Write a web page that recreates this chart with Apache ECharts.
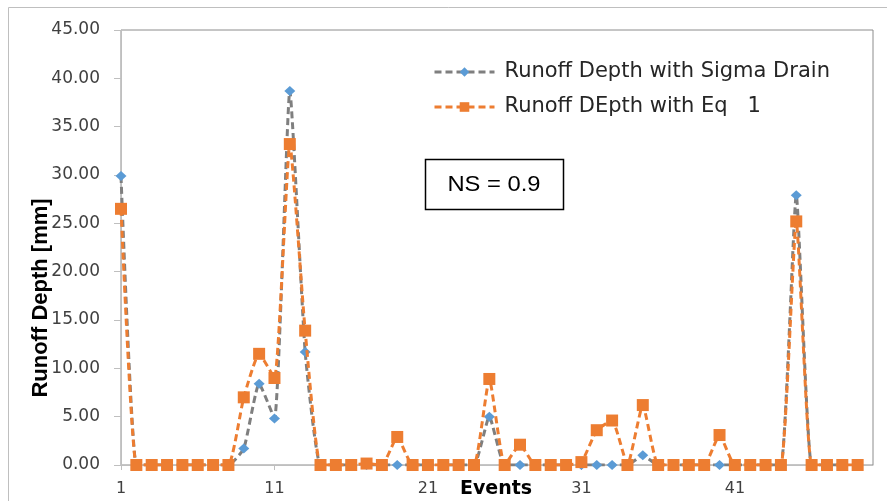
<!DOCTYPE html>
<html><head><meta charset="utf-8">
<script src="https://cdn.jsdelivr.net/npm/echarts@6/dist/echarts.min.js"></script>
<style>html,body{margin:0;padding:0;background:#fff}#c{width:887px;height:501px}</style>
</head><body><div id="c"></div>
<script>
// Event numbers on the category axis (event 50 is an empty slot at the right edge)
const categories = ['1','2','3','4','5','6','7','8','9','10','11','12','13','14','15','16','17','18','19','20',
  '21','22','23','24','25','26','27','28','29','30','31','32','33','34','35','36','37','38','39','40',
  '41','42','43','44','45','46','47','48','49','50'];
const xTickLabels = ['1','11','21','31','41'];
const yTickValues = [0,5,10,15,20,25,30,35,40,45];

// Runoff Depth with Sigma Drain (mm), events 1..49
const sigmaDrain = [29.9,0,0,0,0,0,0,0,1.7,8.4,
  4.8,38.7,11.7,0,0,0,0,0,0,0,
  0,0,0,0,5.0,0,0,0,0,0,
  0,0,0,0,1.0,0,0,0,0,0,
  0,0,0,0,27.9,0,0,0,0];
// Runoff DEpth with Eq 1 (mm), events 1..49
const eq1 = [26.5,0,0,0,0,0,0,0,7.0,11.5,
  9.0,33.2,13.9,0,0,0,0.15,0,2.9,0,
  0,0,0,0,8.9,0,2.1,0,0,0,
  0.3,3.6,4.6,0,6.2,0,0,0,0,3.1,
  0,0,0,0,25.2,0,0,0,0];

const seriesNames = ['Runoff Depth with Sigma Drain', 'Runoff DEpth with Eq   1'];

const chart = echarts.init(document.getElementById('c'), null, {renderer:'canvas'});
chart.setOption({
  animation: false,
  backgroundColor: '#ffffff',
  grid: {left:121, right:14, top:30, bottom:36, show:true, borderColor:'#8c8c8c', borderWidth:1, backgroundColor:'transparent'},
  legend: {
    orient:'vertical', left:428, top:55, itemWidth:60, itemHeight:12, itemGap:11,
    data: seriesNames,
    lineStyle:{width:3},
    textStyle:{fontFamily:'DejaVu Sans', fontSize:21, color:'#262626', lineHeight:24, padding:[0,0,0,5]}
  },
  xAxis: {
    type:'category', data:categories, boundaryGap:false,
    axisLine:{lineStyle:{color:'#bfbfbf', width:1}},
    axisTick:{show:true, length:5, interval:9, lineStyle:{color:'#bfbfbf'}},
    axisLabel:{interval:9, margin:16, fontFamily:'DejaVu Sans', fontSize:16, color:'#404040',
      formatter:v=>xTickLabels.includes(v) ? v : ''},
    splitLine:{show:false}
  },
  yAxis: {
    type:'value', min:yTickValues[0], max:yTickValues[yTickValues.length-1], interval:5,
    axisLine:{show:true, lineStyle:{color:'#bfbfbf', width:1}},
    axisTick:{show:true, length:7, lineStyle:{color:'#bfbfbf'}},
    axisLabel:{margin:21, fontFamily:'DejaVu Sans', fontSize:17, color:'#404040', formatter:v=>v.toFixed(2)},
    splitLine:{show:false}
  },
  series: [
    {name:seriesNames[0], type:'line', data:sigmaDrain, smooth:0.15,
     symbol:'diamond', symbolSize:[11,10], showSymbol:true, showAllSymbol:true,
     lineStyle:{color:'#7f7f7f', width:3, type:[7,4]},
     itemStyle:{color:'#5b9bd5'}, z:2},
    {name:seriesNames[1], type:'line', data:eq1, smooth:0.15,
     symbol:'rect', symbolSize:12, showSymbol:true, showAllSymbol:true,
     lineStyle:{color:'#ed7d31', width:3, type:[7,4]},
     itemStyle:{color:'#ed7d31'}, z:3}
  ],
  graphic: [
    {type:'rect', shape:{x:8.5, y:7.5, width:900, height:600}, style:{fill:'none', stroke:'#bfbfbf', lineWidth:1}, z:-10, silent:true},
    {type:'rect', shape:{x:425.5, y:159.5, width:138, height:50}, style:{fill:'#ffffff', stroke:'#000000', lineWidth:1.5}, z:10},
    {type:'text', x:494, y:184.5, scaleX:1.08, z:11,
     style:{text:'NS = 0.9', font:'22px "Liberation Sans"', fill:'#000', textAlign:'center', textVerticalAlign:'middle', align:'center', verticalAlign:'middle'}},
    {type:'text', x:41, y:298, rotation:Math.PI/2, z:11,
     style:{text:'Runoff Depth [mm]', font:'bold 22px "Liberation Sans"', fill:'#000', textAlign:'center', textVerticalAlign:'middle', align:'center', verticalAlign:'middle'}},
    {type:'text', x:496, y:489, z:11,
     style:{text:'Events', font:'bold 19px "DejaVu Sans"', fill:'#000', textAlign:'center', textVerticalAlign:'middle', align:'center', verticalAlign:'middle'}}
  ]
});
</script>
</body></html>
